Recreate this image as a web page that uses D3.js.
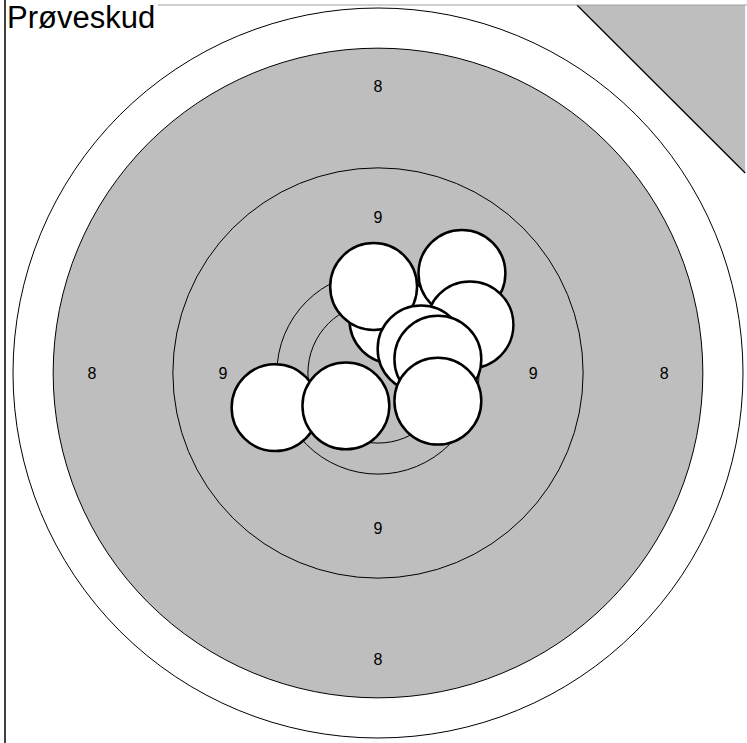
<!DOCTYPE html>
<html lang='en'>
<head>
  <meta charset='UTF-8'>
  <title>Prøveskud</title>
  <style>
    body { margin: 0; background: #fff; }
    text { font-family: 'Liberation Sans', Arial, sans-serif; }
  </style>
</head>
<body>
<div id='panel'></div>
<script src='https://d3js.org/d3.v7.min.js'></script>
<script>
  // ring radii (target units, 100 = outer ring)
  var ringRadii = [100, 89, 56.2, 27.7, 19.2]
  var ringFills = ['#fff', '#bebebe', '#bebebe', '#bebebe', '#bebebe']
  // ring labels: value + distance from centre
  var labelValues = ['8', '9']
  var labelRadii = [78.4, 42.5]
  // shots, in drawing order (x right, y up)
  var shotX = [4.1, -1.2, 23.0, 25.2, 11.8, 16.4, 16.4, -28.2, -8.8]
  var shotY = [14.5, 23.7, 27.3, 13.2, 6.6, 3.8, -7.7, -9.5, -9.0]
  var shotRadius = 11.9
  // sighting-shot corner
  var cornerX = [54.5, 100.6, 100.6]
  var cornerY = [100.8, 100.8, 54.8]
  var title = 'Prøveskud'

  var width = 747, height = 743
  var cx = 378, cy = 373, k = 3.65   // centre in px, px per unit

  var x = d3.scaleLinear().domain([0, 100]).range([cx, cx + 100 * k])
  var y = d3.scaleLinear().domain([0, 100]).range([cy, cy - 100 * k])
  var r = d3.scaleLinear().domain([0, 100]).range([0, 100 * k])

  var svg = d3.select('#panel').append('svg')
    .attr('width', width)
    .attr('height', height)

  // rings, largest first
  svg.append('g').selectAll('circle')
    .data(ringRadii)
    .enter().append('circle')
    .attr('cx', x(0))
    .attr('cy', y(0))
    .attr('r', function (d) { return r(d) })
    .style('fill', function (d, i) { return ringFills[i] })
    .style('stroke', '#000')
    .style('stroke-width', '1px')

  // corner triangle
  var pts = cornerX.map(function (d, i) { return [x(d), y(cornerY[i])] })
  svg.append('path')
    .attr('d', 'M' + pts.join('L') + 'Z')
    .style('fill', '#bebebe')
    .style('stroke', 'none')
  svg.append('line')
    .attr('x1', pts[0][0]).attr('y1', pts[0][1])
    .attr('x2', pts[2][0]).attr('y2', pts[2][1])
    .style('stroke', '#000')
    .style('stroke-width', '1.3px')

  // labels on four sides
  var dirs = [[0, 1], [0, -1], [-1, 0], [1, 0]]
  labelValues.forEach(function (v, i) {
    svg.append('g').selectAll('text')
      .data(dirs)
      .enter().append('text')
      .attr('x', function (d) { return x(d[0] * labelRadii[i]) })
      .attr('y', function (d) { return y(d[1] * labelRadii[i]) })
      .attr('text-anchor', 'middle')
      .attr('dominant-baseline', 'central')
      .style('font-size', '16px')
      .text(v)
  })

  // shots
  svg.append('g').selectAll('circle')
    .data(shotX)
    .enter().append('circle')
    .attr('cx', function (d) { return x(d) })
    .attr('cy', function (d, i) { return y(shotY[i]) })
    .attr('r', r(shotRadius))
    .style('fill', '#fff')
    .style('stroke', '#000')
    .style('stroke-width', '2.5px')

  // frame
  svg.append('line')
    .attr('x1', 5).attr('y1', 5).attr('x2', width).attr('y2', 5)
    .style('stroke', '#a0a0a0').style('stroke-width', '1px')
  svg.append('line')
    .attr('x1', 5).attr('y1', 0).attr('x2', 5).attr('y2', height)
    .style('stroke', '#000').style('stroke-width', '1.5px')

  // title with white backing
  svg.append('rect')
    .attr('x', 6).attr('y', 1).attr('width', 152).attr('height', 32)
    .style('fill', '#fff')
  svg.append('text')
    .attr('x', 7)
    .attr('y', 28)
    .style('font-size', '31px')
    .text(title)
</script>
</body>
</html>
